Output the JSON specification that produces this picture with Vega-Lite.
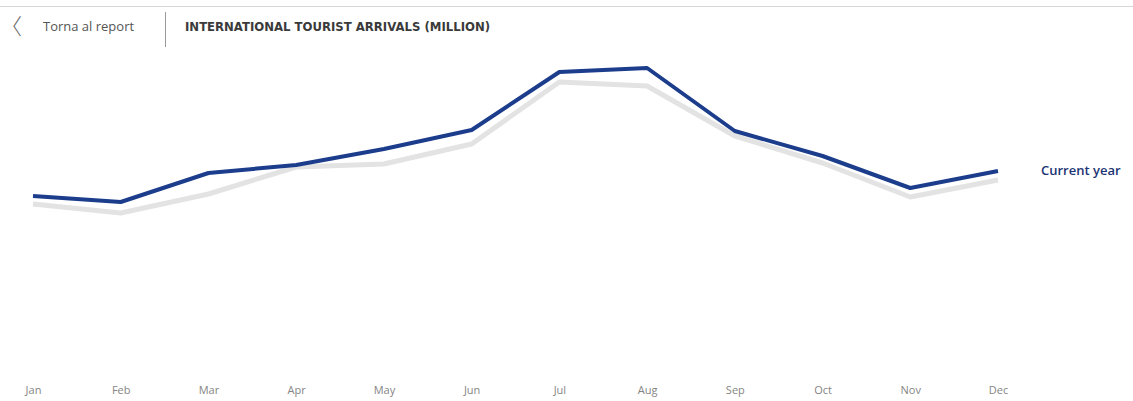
{
  "$schema": "https://vega.github.io/schema/vega-lite/v6.json",
  "width": 1133,
  "height": 320,
  "autosize": "none",
  "padding": {"top": 40, "left": 0, "right": 0, "bottom": 41},
  "background": "white",
  "config": {"view": {"stroke": null}},
  "data": {
    "values": [
      {"month": "Jan", "series": "Previous year", "value": 39},
      {"month": "Feb", "series": "Previous year", "value": 36.75},
      {"month": "Mar", "series": "Previous year", "value": 41.5},
      {"month": "Apr", "series": "Previous year", "value": 48.25},
      {"month": "May", "series": "Previous year", "value": 49},
      {"month": "Jun", "series": "Previous year", "value": 54},
      {"month": "Jul", "series": "Previous year", "value": 69.5},
      {"month": "Aug", "series": "Previous year", "value": 68.5},
      {"month": "Sep", "series": "Previous year", "value": 56},
      {"month": "Oct", "series": "Previous year", "value": 49.25},
      {"month": "Nov", "series": "Previous year", "value": 40.75},
      {"month": "Dec", "series": "Previous year", "value": 45},
      {"month": "Jan", "series": "Current year", "value": 41},
      {"month": "Feb", "series": "Current year", "value": 39.5},
      {"month": "Mar", "series": "Current year", "value": 46.75},
      {"month": "Apr", "series": "Current year", "value": 48.75},
      {"month": "May", "series": "Current year", "value": 52.75},
      {"month": "Jun", "series": "Current year", "value": 57.5},
      {"month": "Jul", "series": "Current year", "value": 72},
      {"month": "Aug", "series": "Current year", "value": 73},
      {"month": "Sep", "series": "Current year", "value": 57.25},
      {"month": "Oct", "series": "Current year", "value": 51},
      {"month": "Nov", "series": "Current year", "value": 43},
      {"month": "Dec", "series": "Current year", "value": 47.25}
    ]
  },
  "encoding": {
    "x": {
      "field": "month",
      "type": "ordinal",
      "sort": null,
      "scale": {"type": "point", "range": [33, 998], "padding": 0},
      "axis": {
        "title": null,
        "domain": false,
        "ticks": false,
        "grid": false,
        "labelAngle": 0,
        "labelFont": "Open Sans",
        "labelFontSize": 11,
        "labelColor": "#858585",
        "labelPadding": 24
      }
    },
    "y": {
      "field": "value",
      "type": "quantitative",
      "scale": {"domain": [0, 80], "nice": false, "zero": false},
      "axis": null
    }
  },
  "layer": [
    {
      "transform": [{"filter": "datum.series === 'Previous year'"}],
      "mark": {"type": "line", "color": "#e3e3e3", "strokeWidth": 5, "strokeJoin": "round"}
    },
    {
      "transform": [{"filter": "datum.series === 'Current year'"}],
      "mark": {"type": "line", "color": "#1c3d8c", "strokeWidth": 4, "strokeJoin": "round"}
    },
    {
      "transform": [{"filter": "datum.series === 'Current year' && datum.month === 'Dec'"}],
      "mark": {"type": "text", "align": "left", "baseline": "middle", "dx": 43, "font": "Open Sans", "fontWeight": 600, "fontSize": 13, "color": "#1c3473"},
      "encoding": {"text": {"field": "series"}}
    },
    {
      "data": {"values": [{"t": "Torna al report"}]},
      "mark": {"type": "text", "align": "left", "baseline": "middle", "font": "Open Sans", "fontSize": 13, "color": "#555555"},
      "encoding": {"text": {"field": "t"}, "x": {"value": 43}, "y": {"value": -13}}
    },
    {
      "data": {"values": [{"t": "〈"}]},
      "mark": {"type": "text", "align": "center", "baseline": "middle", "font": "Noto Sans CJK SC", "fontWeight": 300, "fontSize": 22, "color": "#666666"},
      "encoding": {"text": {"field": "t"}, "x": {"value": 11}, "y": {"value": -13}}
    },
    {
      "data": {"values": [{"t": "INTERNATIONAL TOURIST ARRIVALS (MILLION)"}]},
      "mark": {"type": "text", "align": "left", "baseline": "middle", "font": "DejaVu Sans", "fontWeight": "bold", "fontSize": 11.7, "color": "#3a3a3a"},
      "encoding": {"text": {"field": "t"}, "x": {"value": 185}, "y": {"value": -13}}
    },
    {
      "data": {"values": [{"k": "top"}]},
      "mark": {"type": "rule", "color": "#d6d6d6", "strokeWidth": 1},
      "encoding": {"x": {"value": 0}, "x2": {"value": 1133}, "y": {"value": -33.5}}
    },
    {
      "data": {"values": [{"k": "divider"}]},
      "mark": {"type": "rule", "color": "#9a9a9a", "strokeWidth": 1},
      "encoding": {"x": {"value": 165.5}, "y": {"value": -28}, "y2": {"value": 7}}
    }
  ]
}
